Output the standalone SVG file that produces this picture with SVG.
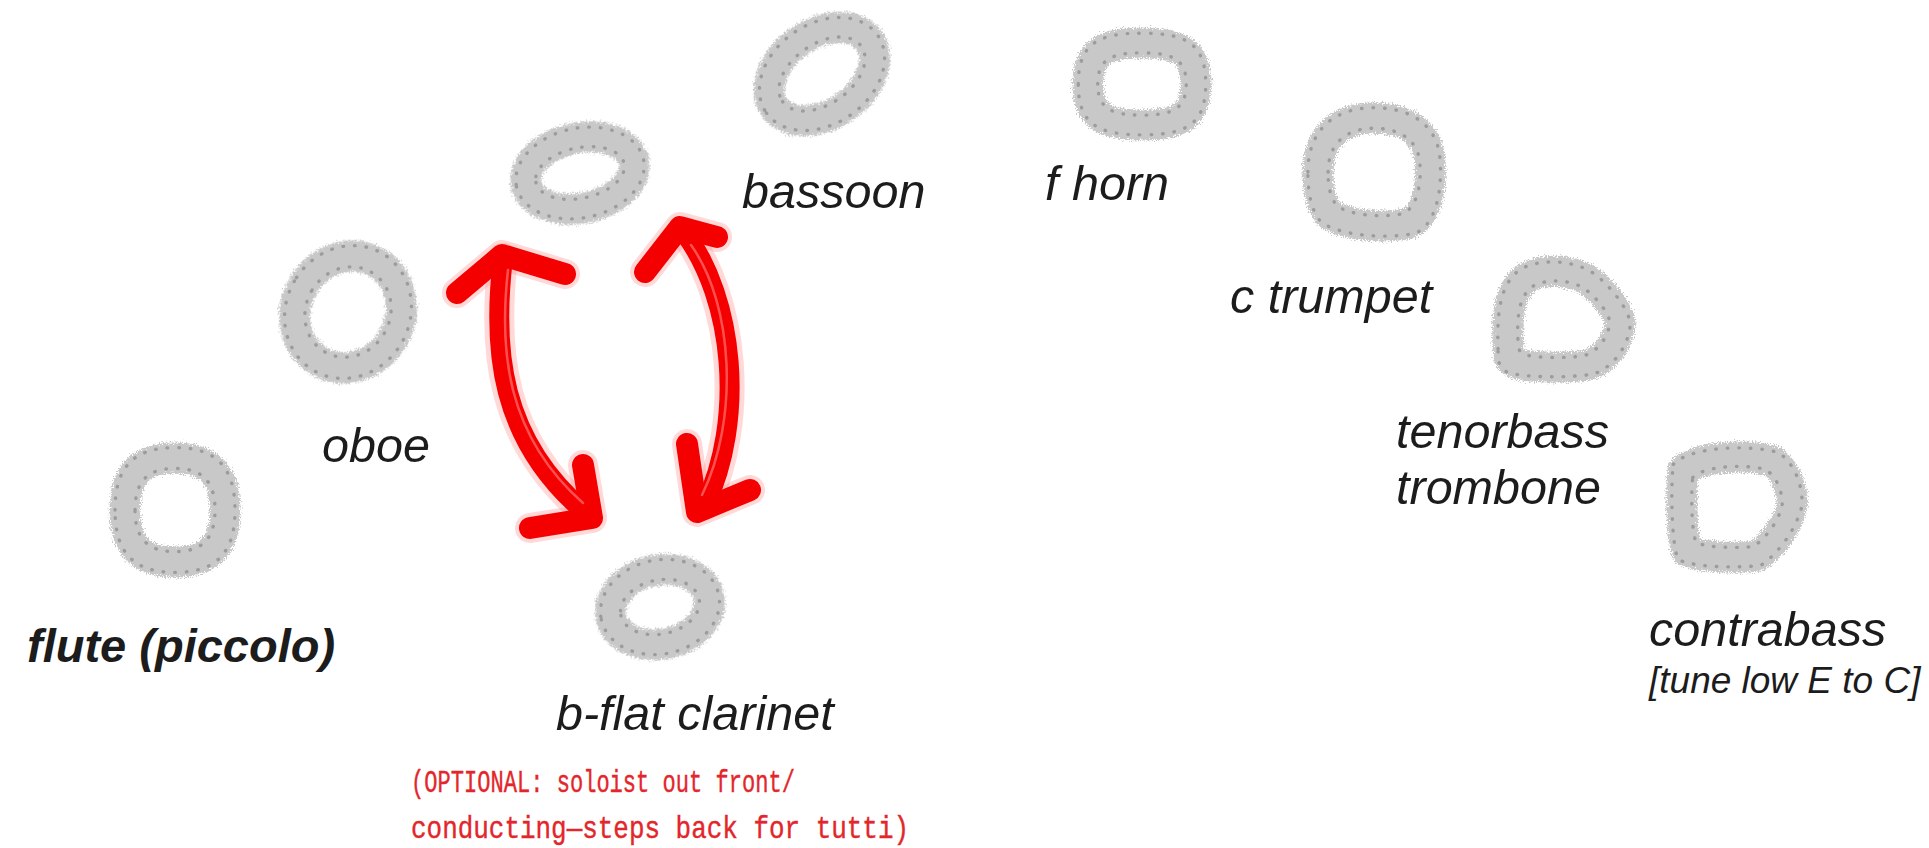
<svg xmlns="http://www.w3.org/2000/svg" width="1929" height="848" viewBox="0 0 1929 848">
<defs>
<style>
.band{fill:none;stroke:#c8c8c8;stroke-width:31;filter:url(#fuzz)}
.dots{fill:none;stroke:#9c9c9c;stroke-width:3.4;stroke-dasharray:0.5 11;stroke-linecap:round}
.lbl{font-family:"Liberation Sans",Arial,Helvetica,sans-serif;font-style:italic;font-size:48.5px;fill:#1c1c1c}
.small{font-size:37px}
.bold{font-weight:bold;font-size:47px}
.note{font-family:"Liberation Mono","Courier New",monospace;font-size:32px;fill:#e3262b;stroke:#e3262b;stroke-width:0.4}
.halo{fill:none;stroke:#ff8f8f;stroke-opacity:0.35;stroke-width:30;stroke-linecap:round;stroke-linejoin:round}
.arr{fill:none;stroke:#f40000;stroke-width:20;stroke-linecap:round;stroke-linejoin:round}
.head{fill:none;stroke:#f40000;stroke-width:22;stroke-linecap:round;stroke-linejoin:round}
.tex{fill:none;stroke:#ff5050;stroke-width:2.5;stroke-linecap:round}
</style>
<filter id="fuzz" x="-25%" y="-25%" width="150%" height="150%">
<feTurbulence type="fractalNoise" baseFrequency="0.7" numOctaves="2" seed="4" result="n"/>
<feDisplacementMap in="SourceGraphic" in2="n" scale="9" xChannelSelector="R" yChannelSelector="G"/>
</filter>
<path id="sFlute" vector-effect="non-scaling-stroke" d="M -50 0 C -50 -36 -34 -52 0 -52 C 34 -52 50 -36 50 0 C 50 36 34 52 0 52 C -34 52 -50 36 -50 0 Z"/>
<path id="sOboe" vector-effect="non-scaling-stroke" d="M -52 0 A 52 57 0 1 0 52 0 A 52 57 0 1 0 -52 0 Z"/>
<path id="sUnl" vector-effect="non-scaling-stroke" d="M -55 0 A 55 35 0 1 0 55 0 A 55 35 0 1 0 -55 0 Z"/>
<path id="sBass" vector-effect="non-scaling-stroke" d="M -58 0 A 58 40 0 1 0 58 0 A 58 40 0 1 0 -58 0 Z"/>
<path id="sHorn" vector-effect="non-scaling-stroke" d="M -54 0 C -54 -32 -38 -41 0 -41 C 38 -41 54 -32 54 0 C 54 32 38 41 0 41 C -38 41 -54 32 -54 0 Z"/>
<path id="sTrum" vector-effect="non-scaling-stroke" d="M -56 0 C -56 -36 -33 -54 0 -54 C 28 -54 54 -42 56 -10 C 58 16 52 47 33 52 C 9 56 -28 54 -45 42 C -54 31 -56 16 -56 0 Z"/>
<path id="sTenor" vector-effect="non-scaling-stroke" d="M -55 25 C -56 0 -55 -30 -35 -42 C -15 -52 15 -48 30 -35 C 45 -22 57 -5 57 5 C 55 25 40 42 25 46 C 5 49 -30 49 -45 45 C -55 42 -55 35 -55 25 Z"/>
<path id="sContra" vector-effect="non-scaling-stroke" d="M -54 -35 C -40 -50 10 -52 35 -45 C 50 -35 56 -15 55 0 C 50 20 35 40 20 50 C 0 52 -35 52 -50 45 C -56 30 -56 -20 -54 -35 Z"/>
<path id="sClar" vector-effect="non-scaling-stroke" d="M -50 0 A 50 37 0 1 0 50 0 A 50 37 0 1 0 -50 0 Z"/>
</defs>
<rect width="1929" height="848" fill="#ffffff"/>

<g id="flute">
<g transform="translate(175,510)"><use href="#sFlute" class="band"/><use href="#sFlute" class="dots" transform="scale(1.2)"/><use href="#sFlute" class="dots" transform="scale(0.8)"/></g>
<text class="lbl bold" x="27" y="662">flute (piccolo)</text>
</g>

<g id="oboe">
<g transform="translate(348,312) rotate(30)"><use href="#sOboe" class="band"/><use href="#sOboe" class="dots" transform="scale(1.19)"/><use href="#sOboe" class="dots" transform="scale(0.81)"/></g>
<text class="lbl" x="322" y="462">oboe</text>
</g>

<g id="seat-unlabeled">
<g transform="translate(580,173) rotate(-12)"><use href="#sUnl" class="band"/><use href="#sUnl" class="dots" transform="scale(1.18,1.28)"/><use href="#sUnl" class="dots" transform="scale(0.82,0.72)"/></g>
</g>

<g id="bassoon">
<g transform="translate(822,74) rotate(-35)"><use href="#sBass" class="band"/><use href="#sBass" class="dots" transform="scale(1.17,1.25)"/><use href="#sBass" class="dots" transform="scale(0.83,0.75)"/></g>
<text class="lbl" x="742" y="208">bassoon</text>
</g>

<g id="fhorn">
<g transform="translate(1142,84)"><use href="#sHorn" class="band"/><use href="#sHorn" class="dots" transform="scale(1.18,1.24)"/><use href="#sHorn" class="dots" transform="scale(0.82,0.76)"/></g>
<text class="lbl" x="1045" y="200">f horn</text>
</g>

<g id="ctrumpet">
<g transform="translate(1374,172)"><use href="#sTrum" class="band"/><use href="#sTrum" class="dots" transform="scale(1.18,1.19)"/><use href="#sTrum" class="dots" transform="scale(0.82,0.81)"/></g>
<text class="lbl" x="1230" y="313">c trumpet</text>
</g>

<g id="trombone">
<g transform="translate(1563,319)"><use href="#sTenor" class="band"/><use href="#sTenor" class="dots" transform="scale(1.18,1.2)"/><use href="#sTenor" class="dots" transform="scale(0.82,0.8)"/></g>
<text class="lbl" x="1396" y="448">tenorbass</text>
<text class="lbl" x="1396" y="504">trombone</text>
</g>

<g id="contrabass">
<g transform="translate(1737,506)"><use href="#sContra" class="band"/><use href="#sContra" class="dots" transform="scale(1.18,1.19)"/><use href="#sContra" class="dots" transform="scale(0.82,0.81)"/></g>
<text class="lbl" x="1649" y="646">contrabass</text>
<text class="lbl small" x="1649" y="693">[tune low E to C]</text>
</g>

<g id="clarinet">
<g transform="translate(660,607) rotate(-12)"><use href="#sClar" class="band"/><use href="#sClar" class="dots" transform="scale(1.2,1.27)"/><use href="#sClar" class="dots" transform="scale(0.8,0.73)"/></g>
<text class="lbl" x="556" y="730">b-flat clarinet</text>
<text class="note" x="411" y="792" textLength="384" lengthAdjust="spacingAndGlyphs">(OPTIONAL: soloist out front/</text>
<text class="note" x="411" y="838" textLength="498" lengthAdjust="spacingAndGlyphs">conducting—steps back for tutti)</text>
</g>

<g id="connectors">
<g id="arrow-left">
<path class="halo" d="M 503 258 C 492 350 500 440 585 512"/>
<path class="halo" d="M 457 293 L 502 255 L 565 274"/>
<path class="halo" d="M 530 528 L 592 518 L 583 465"/>
<path class="arr" d="M 503 258 C 492 350 500 440 585 512"/>
<path class="head" d="M 457 293 L 502 255 L 565 274"/>
<path class="head" d="M 530 528 L 592 518 L 583 465"/>
<path class="tex" d="M 508 270 C 499 350 506 435 583 503"/>
</g>
<g id="arrow-right">
<path class="halo" d="M 684 232 C 735 300 745 420 705 505"/>
<path class="halo" d="M 645 272 L 680 227 L 717 237"/>
<path class="halo" d="M 687 444 L 697 512 L 750 490"/>
<path class="arr" d="M 684 232 C 735 300 745 420 705 505"/>
<path class="head" d="M 645 272 L 680 227 L 717 237"/>
<path class="head" d="M 687 444 L 697 512 L 750 490"/>
<path class="tex" d="M 691 245 C 734 305 739 420 702 495"/>
</g>
</g>
</svg>
